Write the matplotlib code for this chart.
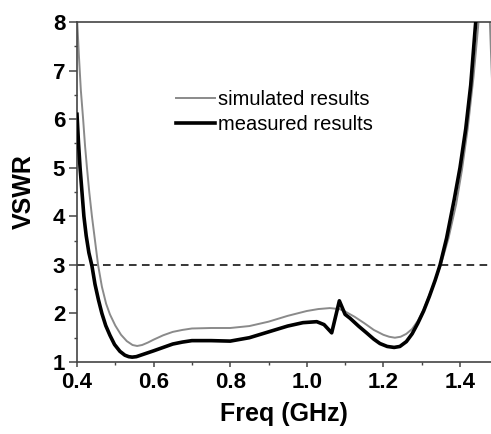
import matplotlib
matplotlib.use("Agg")
import matplotlib.pyplot as plt
from matplotlib.ticker import MultipleLocator

# Data
sim_freq = [0.400, 0.405, 0.410, 0.416, 0.421, 0.426, 0.432, 0.439, 0.447, 0.455, 0.465,
            0.476, 0.486, 0.500, 0.515, 0.530, 0.545, 0.557, 0.570, 0.585, 0.600, 0.625,
            0.650, 0.675, 0.700, 0.750, 0.800, 0.850, 0.900, 0.950, 1.000, 1.030, 1.060,
            1.085, 1.100, 1.125, 1.150, 1.175, 1.200, 1.215, 1.230, 1.245, 1.260, 1.275,
            1.290, 1.305, 1.320, 1.335, 1.350, 1.370, 1.390, 1.405, 1.420, 1.435, 1.445,
            1.455, 1.465, 1.472, 1.478, 1.485]
sim_vswr = [8.10, 7.30, 6.60, 6.00, 5.45, 5.00, 4.50, 4.00, 3.50, 3.00, 2.55,
            2.20, 1.98, 1.75, 1.56, 1.43, 1.35, 1.33, 1.35, 1.40, 1.46, 1.55,
            1.62, 1.66, 1.69, 1.70, 1.70, 1.74, 1.83, 1.95, 2.05, 2.09, 2.11,
            2.09, 2.04, 1.93, 1.80, 1.66, 1.56, 1.52, 1.50, 1.52, 1.58, 1.68,
            1.85, 2.08, 2.38, 2.68, 3.00, 3.55, 4.25, 4.95, 5.80, 6.85, 7.70,
            8.60, 9.10, 8.80, 8.00, 6.50]

meas_freq = [0.400, 0.404, 0.408, 0.413, 0.418, 0.424, 0.431, 0.439, 0.447, 0.456, 0.465,
             0.475, 0.486, 0.498, 0.512, 0.525, 0.535, 0.544, 0.555, 0.570, 0.585, 0.600,
             0.625, 0.650, 0.675, 0.700, 0.750, 0.800, 0.850, 0.900, 0.950, 0.990, 1.026,
             1.045, 1.065, 1.085, 1.100, 1.113, 1.135, 1.156, 1.175, 1.191, 1.210, 1.228,
             1.243, 1.260, 1.275, 1.290, 1.305, 1.320, 1.335, 1.348, 1.365, 1.385, 1.400,
             1.415, 1.428, 1.440, 1.450]
meas_vswr = [6.10, 5.50, 5.00, 4.50, 4.00, 3.60, 3.25, 2.98, 2.60, 2.28, 2.00,
             1.75, 1.55, 1.36, 1.22, 1.14, 1.11, 1.10, 1.11, 1.15, 1.19, 1.23,
             1.30, 1.37, 1.41, 1.44, 1.44, 1.43, 1.50, 1.62, 1.74, 1.81, 1.83,
             1.77, 1.60, 2.26, 1.98, 1.90, 1.74, 1.60, 1.47, 1.38, 1.32, 1.30,
             1.32, 1.42, 1.58, 1.80, 2.05, 2.35, 2.68, 3.00, 3.55, 4.35, 5.00,
             5.80, 6.70, 7.90, 8.80]

threshold = 3.0
sim_label = "simulated results"
meas_label = "measured results"

plt.rcParams['font.family'] = ['Liberation Sans', 'DejaVu Sans']

fig = plt.figure(figsize=(4.91, 4.34), dpi=100)
ax = fig.add_axes([77/491, 72/434, 1 - 77/491, (362-22)/434])

ax.plot(sim_freq, sim_vswr, color='#8a8a8a', lw=1.4, label=sim_label, zorder=2)
ax.plot(meas_freq, meas_vswr, color='black', lw=2.6, label=meas_label, zorder=3)
ax.axhline(threshold, color='black', lw=1.1, ls=(0, (5, 3.5)), zorder=1)

ax.set_xlim(0.4, 0.4 + (491 - 77) / 383.0)
ax.set_ylim(1, 8)
ax.xaxis.set_major_locator(MultipleLocator(0.2))
ax.xaxis.set_minor_locator(MultipleLocator(0.1))
ax.yaxis.set_major_locator(MultipleLocator(1))
ax.yaxis.set_minor_locator(MultipleLocator(0.5))
ax.xaxis.set_major_formatter(matplotlib.ticker.FormatStrFormatter('%.1f'))

for s in ['left', 'bottom', 'top']:
    ax.spines[s].set_color('#444444')
    ax.spines[s].set_linewidth(1.2)
ax.spines['right'].set_visible(False)

ax.tick_params(axis='both', which='major', direction='out', labelsize=16,
               width=1.1, color='#444444')
ax.tick_params(axis='y', which='major', length=5.5, pad=3)
ax.tick_params(axis='x', which='major', length=3.5, pad=4)
ax.tick_params(axis='both', which='minor', direction='out', length=2.5,
               width=1.0, color='#444444')
for lab in ax.get_xticklabels() + ax.get_yticklabels():
    lab.set_fontweight('bold')

ax.set_xlabel('Freq (GHz)', fontsize=18, fontweight='bold', labelpad=6)
ax.set_ylabel('VSWR', fontsize=18, fontweight='bold', labelpad=12)

ax.legend(loc='upper left', bbox_to_anchor=(176/491, 1 - 90/434),
          bbox_transform=fig.transFigure, frameon=False, fontsize=14.5,
          handlelength=1.95, handletextpad=0.15, labelspacing=0.32,
          borderpad=0, borderaxespad=0)

fig.savefig('out.png', dpi=100)
